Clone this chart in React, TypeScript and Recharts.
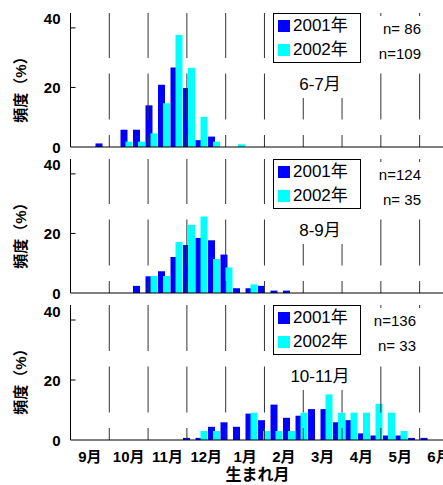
import React from 'react'
import { BarChart, Bar, XAxis, YAxis, Legend, ReferenceLine } from 'recharts'

const FONT = '"Liberation Sans", Arial, "Noto Sans CJK JP", sans-serif'

const MONTHS = ['9月', '10月', '11月', '12月', '1月', '2月', '3月', '4月', '5月', '6月']
const THIRDS = ['上旬', '中旬', '下旬']
const SERIES = ['2001年', '2002年']
const Y_TICKS = [0, 20, 40]

const PERIODS = ['6-7月', '8-9月', '10-11月']
const N_2001 = [86, 124, 136]
const N_2002 = [109, 35, 33]

// 頻度(%) per 10-day bin, 9月上旬 .. 6月下旬
const P1_2001 = [0, 0, 1.2, 0, 5.8, 5.8, 14.0, 20.9, 26.7, 19.8, 2.3, 3.5, 0, 0, 0, 0, 0, 0, 0, 0, 0, 0, 0, 0, 0, 0, 0, 0, 0, 0]
const P1_2002 = [0, 0, 0, 0, 1.8, 1.8, 4.6, 14.7, 37.6, 26.6, 10.1, 1.8, 0, 0.9, 0, 0, 0, 0, 0, 0, 0, 0, 0, 0, 0, 0, 0, 0, 0, 0]
const P2_2001 = [0, 0, 0, 0, 0, 2.4, 5.6, 7.3, 12.1, 16.1, 18.5, 17.7, 12.9, 1.6, 1.6, 2.4, 0.8, 0.8, 0, 0, 0, 0, 0, 0, 0, 0, 0, 0, 0, 0]
const P2_2002 = [0, 0, 0, 0, 0, 0, 5.7, 5.7, 17.1, 22.9, 25.7, 11.4, 8.6, 0, 2.9, 0, 0, 0, 0, 0, 0, 0, 0, 0, 0, 0, 0, 0, 0, 0]
const P3_2001 = [0, 0, 0, 0, 0, 0, 0, 0, 0, 0.7, 0.7, 4.4, 5.9, 4.4, 8.8, 6.6, 11.8, 7.4, 8.1, 10.3, 10.3, 5.9, 6.6, 2.2, 1.5, 1.5, 1.5, 0.7, 0.7, 0]
const P3_2002 = [0, 0, 0, 0, 0, 0, 0, 0, 0, 0, 3.0, 3.0, 0, 0, 9.1, 3.0, 3.0, 3.0, 9.1, 0, 15.2, 9.1, 9.1, 9.1, 12.1, 9.1, 3.0, 0, 0, 0]

const VALUES = [
  [P1_2001, P1_2002],
  [P2_2001, P2_2002],
  [P3_2001, P3_2002],
]

const BINS = MONTHS.flatMap((m) => THIRDS.map((t) => m + t))
const NBINS = BINS.length
const GRID_TICKS = MONTHS.map((_, i) => i * 3).filter((v) => v > 0)
const MONTH_TICKS = MONTHS.map((_, i) => i * 3 + 1.5)

const N_RIGHT = [22, 22, 27]

function YTick(props: any) {
  const { x, y, payload } = props
  const v = payload.value
  return (
    <g>
      {v !== 0 && <line x1={x + 10} x2={x + 15} y1={y} y2={y} stroke="#000" />}
      <text
        x={x}
        y={y}
        dy={v === 40 ? -9 : 0}
        textAnchor="end"
        dominantBaseline="central"
        fontFamily={FONT}
        fontSize={15}
        fontWeight="bold"
        fill="#000"
      >
        {v}
      </text>
    </g>
  )
}

function LegendBox(props: any) {
  const { payload } = props
  return (
    <div
      style={{
        width: 88,
        height: 50,
        boxSizing: 'border-box',
        border: '1px solid #000',
        background: '#fff',
        paddingLeft: 4,
        fontFamily: FONT,
      }}
    >
      {(payload || []).map((p: any) => (
        <div key={p.value} style={{ display: 'flex', alignItems: 'center', height: 24 }}>
          <span style={{ width: 12, height: 12, background: p.color, marginRight: 3, display: 'inline-block' }} />
          <span style={{ fontSize: 17, color: '#000', lineHeight: '20px' }}>{p.value}</span>
        </div>
      ))}
    </div>
  )
}

function Panel({ idx }: { idx: number }) {
  const last = idx === VALUES.length - 1
  const [a, b] = VALUES[idx]
  const rows = BINS.map((bin, i) => ({ bin, y2001: a[i], y2002: b[i] }))

  return (
    <div style={{ position: 'absolute', left: 0, top: idx * 146, width: 446 }}>
      <BarChart
        width={446}
        height={last ? 193 : 160}
        data={rows}
        margin={{ top: 13, right: 0.5, bottom: last ? 25 : 12, left: 0.5 }}
        barCategoryGap={0}
        barGap={-2}
        barSize={7}
      >
        <XAxis xAxisId="bin" dataKey="bin" hide height={0} />
        <XAxis
          xAxisId="grid"
          type="number"
          domain={[0, NBINS]}
          allowDataOverflow
          ticks={GRID_TICKS}
          interval={0}
          tick={false}
          tickLine={false}
          axisLine={{ stroke: '#000' }}
          height={1}
        />
        {last && (
          <XAxis
            xAxisId="mon"
            type="number"
            domain={[0, NBINS]}
            allowDataOverflow
            ticks={MONTH_TICKS}
            interval={0}
            tickFormatter={(v: number) => MONTHS[Math.floor(v / 3)]}
            axisLine={false}
            tickLine={false}
            tickSize={0}
            tickMargin={10}
            height={19}
            tick={{ fontSize: 15, fontWeight: 'bold', fill: '#000', fontFamily: FONT }}
          />
        )}
        <YAxis
          width={70}
          domain={[0, 45]}
          allowDataOverflow
          ticks={Y_TICKS}
          interval={0}
          axisLine={{ stroke: '#000' }}
          tickLine={false}
          tickSize={0}
          tickMargin={10}
          tick={<YTick />}
        />
        {GRID_TICKS.map((t) => (
          <ReferenceLine
            key={t}
            xAxisId="grid"
            x={t}
            stroke="#333"
            strokeDasharray="46 15.5"
            strokeDashoffset={34}
          />
        ))}
        <Legend
          layout="vertical"
          align="center"
          verticalAlign="middle"
          wrapperStyle={{ left: 273, top: 13, width: 88, height: 50 }}
          content={<LegendBox />}
        />
        <Bar xAxisId="bin" dataKey="y2001" name={SERIES[0]} fill="#0000ff" isAnimationActive={false} />
        <Bar xAxisId="bin" dataKey="y2002" name={SERIES[1]} fill="#00ffff" isAnimationActive={false} />
      </BarChart>

      <div
        style={{
          position: 'absolute',
          left: 365,
          top: 16,
          width: 445 - 365 - N_RIGHT[idx] - 2,
          paddingRight: N_RIGHT[idx] - 2,
          height: 50,
          background: '#fff',
          fontSize: 15,
          lineHeight: '25px',
          textAlign: 'right',
          whiteSpace: 'pre',
          fontFamily: FONT,
        }}
      >
        <div>{`n=${String(N_2001[idx]).padStart(3, ' ')}`}</div>
        <div>{`n=${String(N_2002[idx]).padStart(3, ' ')}`}</div>
      </div>

      <div
        style={{
          position: 'absolute',
          left: 285,
          top: 63,
          width: 70,
          height: 35,
          boxSizing: 'border-box',
          paddingTop: 12,
          background: '#fff',
          fontSize: 17,
          lineHeight: '20px',
          textAlign: 'center',
          fontFamily: FONT,
        }}
      >
        {PERIODS[idx]}
      </div>

      <div
        style={{
          position: 'absolute',
          left: 18.5,
          top: 86,
          transform: 'translate(-50%, -50%) rotate(-90deg)',
          fontSize: 15,
          fontWeight: 'bold',
          whiteSpace: 'nowrap',
          fontFamily: FONT,
        }}
      >
        頻度（%）
      </div>

      {last && (
        <div
          style={{
            position: 'absolute',
            left: 257.5,
            top: 180.5,
            transform: 'translate(-50%, -50%)',
            fontSize: 16,
            fontWeight: 'bold',
            whiteSpace: 'nowrap',
            fontFamily: FONT,
          }}
        >
          生まれ月
        </div>
      )}
    </div>
  )
}

export default function App() {
  return (
    <div
      style={{
        position: 'absolute',
        left: 0,
        top: 0,
        width: 443,
        height: 485,
        overflow: 'hidden',
        background: '#fff',
        fontFamily: FONT,
      }}
    >
      {VALUES.map((_, i) => (
        <Panel key={i} idx={i} />
      ))}
    </div>
  )
}
